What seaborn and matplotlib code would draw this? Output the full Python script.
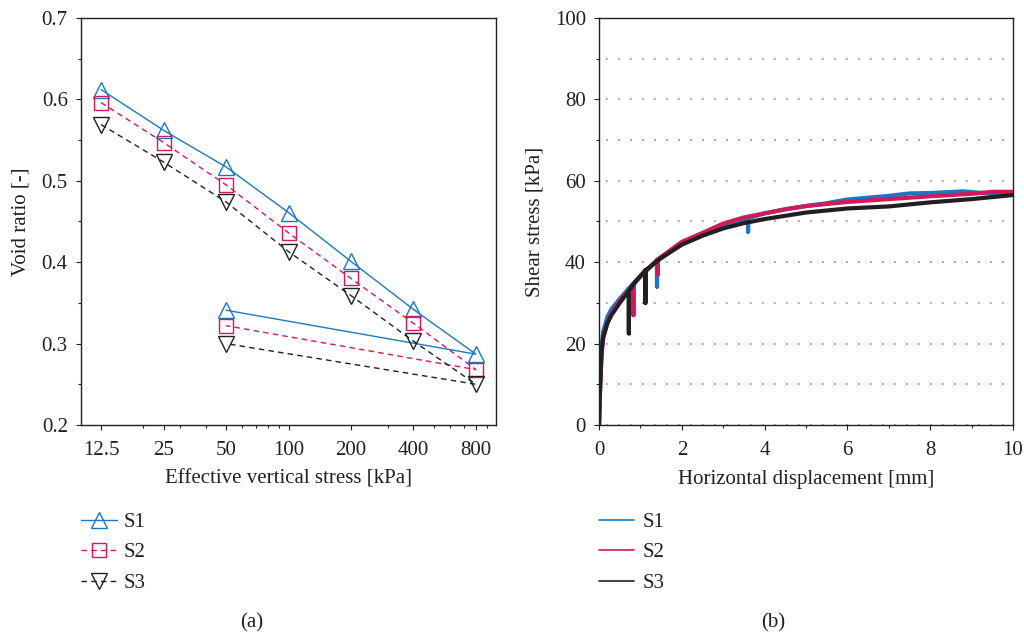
import matplotlib
matplotlib.use("Agg")
import matplotlib.pyplot as plt
import matplotlib.ticker as mticker
from matplotlib.lines import Line2D
import seaborn as sns
import pandas as pd

# ---- (a) void ratio vs effective vertical stress (loading then unloading back to 50 kPa)
stress_steps = [12.5, 25, 50, 100, 200, 400, 800, 50]
void_s1 = [0.612, 0.562, 0.517, 0.461, 0.401, 0.342, 0.287, 0.341]
void_s2 = [0.596, 0.547, 0.495, 0.436, 0.380, 0.325, 0.268, 0.322]
void_s3 = [0.569, 0.523, 0.474, 0.413, 0.359, 0.303, 0.250, 0.300]
stress_ticks = [12.5, 25, 50, 100, 200, 400, 800]
stress_ticklabels = ["12.5", "25", "50", "100", "200", "400", "800"]

# ---- (b) shear stress vs horizontal displacement
disp_s1 = [0, 0.02, 0.06, 0.1, 0.2, 0.3, 0.5, 0.8, 1.0, 1.4, 1.4, 1.4, 2.0, 2.5, 3.0,
           3.6, 3.6, 3.6, 4.0, 4.5, 5.0, 5.5, 6.0, 7.0, 7.5, 8.0, 8.8, 9.5, 10.0]
shear_s1 = [0, 9, 19, 23, 26.5, 28.5, 31, 34.5, 36.5, 40.5, 34, 40.5, 44.8, 47, 49.2,
            50.8, 47.5, 50.8, 52, 53, 53.8, 54.5, 55.4, 56.3, 56.9, 57, 57.4, 56.8, 56.8]
disp_s2 = [0, 0.02, 0.06, 0.1, 0.2, 0.3, 0.5, 0.83, 0.83, 0.83, 1.0, 1.42, 1.42, 1.42,
           2.0, 2.5, 3.0, 3.5, 4.0, 4.5, 5.0, 6.0, 7.0, 8.0, 9.0, 9.5, 10.0]
shear_s2 = [0, 7, 17, 21.5, 25, 27.5, 30.5, 34.5, 27, 34.5, 36.5, 40.7, 37, 40.7,
            45, 47.2, 49.5, 51, 52, 53, 53.8, 54.8, 55.5, 56.2, 56.8, 57.3, 57.3]
disp_s3 = [0, 0.02, 0.06, 0.1, 0.2, 0.3, 0.5, 0.72, 0.72, 0.72, 0.9, 1.12, 1.12, 1.12,
           1.5, 2.0, 2.5, 3.0, 3.5, 4.0, 5.0, 6.0, 7.0, 8.0, 9.0, 10.0]
shear_s3 = [0, 8, 18, 21.5, 25, 27, 30, 33, 22.5, 33, 35.5, 38, 30, 38,
            41, 44.3, 46.5, 48.3, 49.6, 50.6, 52.2, 53.2, 53.7, 54.7, 55.5, 56.5]

labels = ["S1", "S2", "S3"]
colors = ["#1a78c2", "#d2195a", "#231f20"]
text_c = "#231f20"
FS = 15

sns.set_style("ticks")
plt.rcParams["font.family"] = ["Liberation Serif", "DejaVu Serif"]
plt.rcParams["font.size"] = FS
plt.rcParams["text.color"] = text_c
plt.rcParams["axes.labelcolor"] = text_c
plt.rcParams["xtick.color"] = text_c
plt.rcParams["ytick.color"] = text_c
plt.rcParams["axes.edgecolor"] = text_c

fig = plt.figure(figsize=(10.24, 6.35), dpi=100)
ax1 = fig.add_axes([0.0791, 0.3307, 0.4053, 0.641])
ax2 = fig.add_axes([0.585, 0.3307, 0.4043, 0.641])

# ---- panel (a)
markers = ["^", "s", "v"]
msizes = [12, 10, 12]
dashes = [None, (4, 3), (4, 3)]
series_a = [void_s1, void_s2, void_s3]
for vals, col, mk, ms, ds in zip(series_a, colors, markers, msizes, dashes):
    df = pd.DataFrame({"x": stress_steps, "y": vals})
    sns.lineplot(data=df, x="x", y="y", ax=ax1, sort=False, color=col, lw=1.0,
                 marker=mk, markersize=ms, markerfacecolor="none",
                 markeredgecolor=col, markeredgewidth=1.0, estimator=None)
    if ds:
        ax1.lines[-1].set_dashes(ds)

ax1.set_xscale("log")
ax1.set_xlim(10, 1000)
ax1.set_ylim(0.2, 0.7)
ax1.set_xticks(stress_ticks)
ax1.set_xticklabels(stress_ticklabels)
ax1.xaxis.set_minor_locator(mticker.LogLocator(base=10, subs="auto"))
ax1.xaxis.set_minor_formatter(mticker.NullFormatter())
ax1.yaxis.set_major_locator(mticker.MultipleLocator(0.1))
ax1.yaxis.set_minor_locator(mticker.MultipleLocator(0.05))
ax1.set_xlabel("Effective vertical stress [kPa]", labelpad=7)
ax1.set_ylabel("Void ratio [-]", labelpad=8)

# ---- panel (b)
series_b = [(disp_s1, shear_s1), (disp_s2, shear_s2), (disp_s3, shear_s3)]
for (xs, ys), col in zip(series_b, colors):
    df = pd.DataFrame({"x": xs, "y": ys})
    sns.lineplot(data=df, x="x", y="y", ax=ax2, sort=False, color=col, lw=3.0,
                 estimator=None)
ax2.set_xlim(0, 10)
ax2.set_ylim(0, 100)
ax2.xaxis.set_major_locator(mticker.MultipleLocator(2))
ax2.xaxis.set_minor_locator(mticker.MultipleLocator(1))
ax2.yaxis.set_major_locator(mticker.MultipleLocator(20))
ax2.yaxis.set_minor_locator(mticker.MultipleLocator(10))
ax2.grid(axis="y", which="both", color="#8f8f8f", lw=1.2, ls=(3, (1, 6.2)))
ax2.set_axisbelow(True)
ax2.set_xlabel("Horizontal displacement [mm]", labelpad=7)
ax2.set_ylabel("Shear stress [kPa]", labelpad=7)

for ax in (ax1, ax2):
    for s in ax.spines.values():
        s.set_visible(True)
        s.set_linewidth(1.0)
    ax.tick_params(which="major", direction="out", length=3.5, width=0.8, labelsize=FS)
    ax.tick_params(axis="x", which="major", pad=8)
    ax.tick_params(axis="y", which="major", pad=6)
    ax.tick_params(which="minor", direction="out", length=2.2, width=0.8)

# ---- legends below each panel
h_a = []
for c, m, ms, d in zip(colors, markers, msizes, dashes):
    h = Line2D([], [], color=c, lw=1.0, marker=m, markersize=ms,
               markerfacecolor="none", markeredgewidth=1.0)
    if d:
        h.set_dashes(d)
    h_a.append(h)
fig.legend(h_a, labels, loc="upper left", bbox_to_anchor=(0.079, 0.193),
           frameon=False, borderpad=0, borderaxespad=0, handlelength=1.75,
           labelspacing=0.52, handletextpad=0.3, fontsize=FS)
h_b = [Line2D([], [], color=c, lw=1.2) for c in colors]
fig.legend(h_b, labels, loc="upper left", bbox_to_anchor=(0.585, 0.193),
           frameon=False, borderpad=0, borderaxespad=0, handlelength=1.7,
           labelspacing=0.52, handletextpad=0.4, fontsize=FS)

fig.text(0.246, 0.019, "(a)", ha="center", va="center", fontsize=FS)
fig.text(0.755, 0.019, "(b)", ha="center", va="center", fontsize=FS)

fig.savefig("out.png", dpi=100)
